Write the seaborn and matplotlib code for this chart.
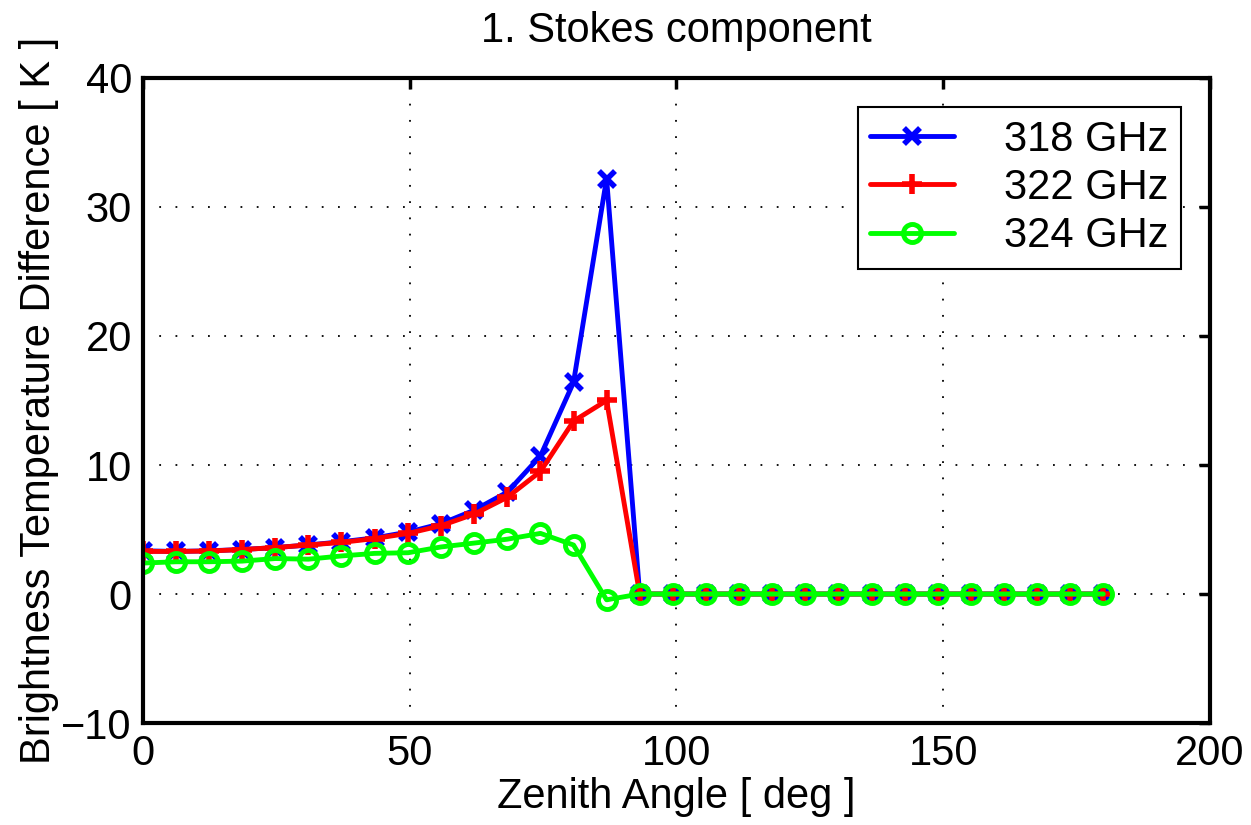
import numpy as np
import pandas as pd
import seaborn as sns
import matplotlib
matplotlib.use("Agg")
import matplotlib.pyplot as plt

# zenith angles (30 points, 0 .. 180 deg)
zenith = [0.0, 6.2, 12.4, 18.6, 24.8, 31.0, 37.2, 43.4, 49.7, 55.9,
          62.1, 68.3, 74.5, 80.7, 86.9, 93.1, 99.3, 105.5, 111.7, 117.9,
          124.1, 130.3, 136.6, 142.8, 149.0, 155.2, 161.4, 167.6, 173.8, 180.0]

zeros_tail = [0.0] * 15

tb_318 = [3.35, 3.3, 3.35, 3.45, 3.6, 3.8, 4.05, 4.35, 4.8, 5.45,
          6.5, 7.9, 10.7, 16.4, 32.2] + zeros_tail
tb_322 = [3.3, 3.3, 3.33, 3.45, 3.6, 3.8, 4.0, 4.3, 4.7, 5.3,
          6.2, 7.5, 9.5, 13.4, 15.0] + zeros_tail
tb_324 = [2.4, 2.5, 2.5, 2.55, 2.75, 2.7, 2.95, 3.15, 3.2, 3.65,
          3.95, 4.25, 4.7, 3.8, -0.45] + zeros_tail

labels = ["318 GHz", "322 GHz", "324 GHz"]

df = pd.concat([
    pd.DataFrame({"zenith": zenith, "tb": tb_318, "freq": labels[0]}),
    pd.DataFrame({"zenith": zenith, "tb": tb_322, "freq": labels[1]}),
    pd.DataFrame({"zenith": zenith, "tb": tb_324, "freq": labels[2]}),
], ignore_index=True)

sns.set_style("white")
plt.rcParams['font.family'] = ['Liberation Sans', 'DejaVu Sans']
plt.rcParams['axes.unicode_minus'] = True
plt.rcParams['text.color'] = 'black'
plt.rcParams['axes.labelcolor'] = 'black'
plt.rcParams['xtick.color'] = 'black'
plt.rcParams['ytick.color'] = 'black'

fig = plt.figure(figsize=(12.51, 8.25), dpi=100)
ax = fig.add_axes([0.1143, 0.1236, 0.8529, 0.7819])

styles = {
    "318 GHz": dict(color="#0000ff", marker="x", ms=11, mew=4),
    "322 GHz": dict(color="#ff0000", marker="+", ms=15, mew=4),
    "324 GHz": dict(color="#00ff00", marker="o", ms=13, mew=3.5),
}

for lab in labels:
    sub = df[df["freq"] == lab]
    st = styles[lab]
    sns.lineplot(data=sub, x="zenith", y="tb", ax=ax, label=lab,
                 color=st["color"], lw=3.5, marker=st["marker"],
                 markersize=st["ms"], markeredgewidth=st["mew"],
                 markerfacecolor="none", markeredgecolor=st["color"],
                 estimator=None, sort=False)

for line in ax.lines:
    line.set_linewidth(3.5)

ax.set_xlim(0, 200)
ax.set_ylim(-10, 40)
ax.set_xticks([0, 50, 100, 150, 200])
ax.set_yticks([-10, 0, 10, 20, 30, 40])

ax.grid(True, color="black", linestyle=(0, (1, 8)), linewidth=1.3)
for s in ax.spines.values():
    s.set_linewidth(3)
    s.set_color("black")
ax.tick_params(direction="in", length=8, width=2.5, labelsize=30,
               top=True, right=True, pad=8)

ax.set_xlabel("Zenith Angle [ deg ]", fontsize=30, labelpad=2)
ax.set_ylabel("Brightness Temperature Difference [ K ]", fontsize=30, labelpad=2)
ax.set_title("1. Stokes component", fontsize=30, pad=26)

leg = ax.legend(loc="upper right", fontsize=30, frameon=True, fancybox=False,
                edgecolor="black", framealpha=1, handlelength=2.0,
                borderaxespad=0.7, labelspacing=0.2, borderpad=0.3,
                handletextpad=1.2)
leg.get_frame().set_linewidth(1.5)
for h in leg.get_lines():
    h.set_linewidth(3.5)

fig.savefig("out.png", dpi=100)
